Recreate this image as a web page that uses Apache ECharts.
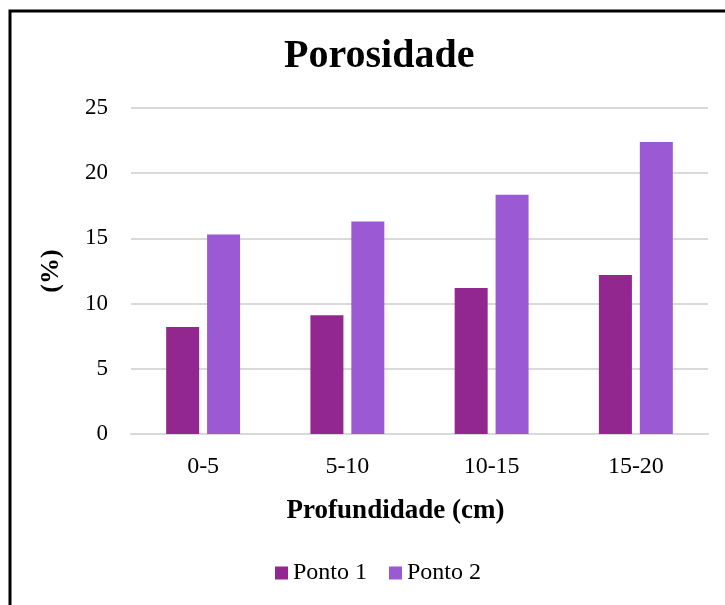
<!DOCTYPE html>
<html>
<head>
<meta charset="utf-8">
<script src="https://cdn.jsdelivr.net/npm/echarts@6/dist/echarts.min.js"></script>
<style>
  html, body { margin: 0; padding: 0; background: #ffffff; }
  #chart { width: 725px; height: 605px; }
</style>
</head>
<body>
<div id="chart"></div>
<script>
// Porosity by depth at two sampling points
const categories = ['0-5', '5-10', '10-15', '15-20'];
const ponto1 = [8.2, 9.1, 11.2, 12.2];
const ponto2 = [15.3, 16.3, 18.35, 22.4];
const yTicks = { min: 0, max: 25, interval: 5 };

const FONT = '"Liberation Serif", "DejaVu Serif", serif';

const chart = echarts.init(document.getElementById('chart'), null, { renderer: 'canvas' });

chart.setOption({
  backgroundColor: '#ffffff',
  animation: false,
  graphic: [{
    type: 'rect',
    shape: { x: 10, y: 11, width: 740, height: 620 },
    style: { fill: 'none', stroke: '#000000', lineWidth: 3 },
    z: 100
  }],
  title: {
    text: 'Porosidade',
    left: 279,
    top: 32,
    textStyle: { fontFamily: FONT, fontSize: 40, fontWeight: 'bold', color: '#000000' }
  },
  grid: { left: 131, right: 17, top: 108, bottom: 171 },
  legend: {
    bottom: 15,
    left: 270,
    icon: 'rect',
    itemWidth: 13,
    itemHeight: 13,
    itemGap: 22,
    itemTextGap: 6,
    textStyle: { fontFamily: FONT, fontSize: 24, color: '#000000' },
    data: ['Ponto 1', 'Ponto 2']
  },
  xAxis: {
    type: 'category',
    data: categories,
    axisLine: { show: true, lineStyle: { color: '#d9d9d9', width: 2 } },
    axisTick: { show: false },
    axisLabel: { fontFamily: FONT, fontSize: 24, color: '#000000', margin: 21 },
    name: 'Profundidade (cm)',
    nameLocation: 'middle',
    nameGap: 64,
    nameTextStyle: {
      fontFamily: FONT, fontSize: 27, fontWeight: 'bold', color: '#000000',
      padding: [0, 48, 0, 0]
    }
  },
  yAxis: {
    type: 'value',
    min: yTicks.min,
    max: yTicks.max,
    interval: yTicks.interval,
    axisLine: { show: false },
    axisTick: { show: false },
    splitLine: { lineStyle: { color: '#d9d9d9', width: 2 } },
    axisLabel: { fontFamily: FONT, fontSize: 23, color: '#000000', margin: 23 },
    name: '(%)',
    nameLocation: 'middle',
    nameRotate: 90,
    nameGap: 67,
    nameTextStyle: { fontFamily: FONT, fontSize: 26, fontWeight: 'bold', color: '#000000' }
  },
  series: [
    {
      name: 'Ponto 1',
      type: 'bar',
      data: ponto1,
      barWidth: 33,
      barGap: '24%',
      itemStyle: { color: '#92278f' }
    },
    {
      name: 'Ponto 2',
      type: 'bar',
      data: ponto2,
      barWidth: 33,
      barGap: '24%',
      itemStyle: { color: '#9b59d3' }
    }
  ]
});
</script>
</body>
</html>
